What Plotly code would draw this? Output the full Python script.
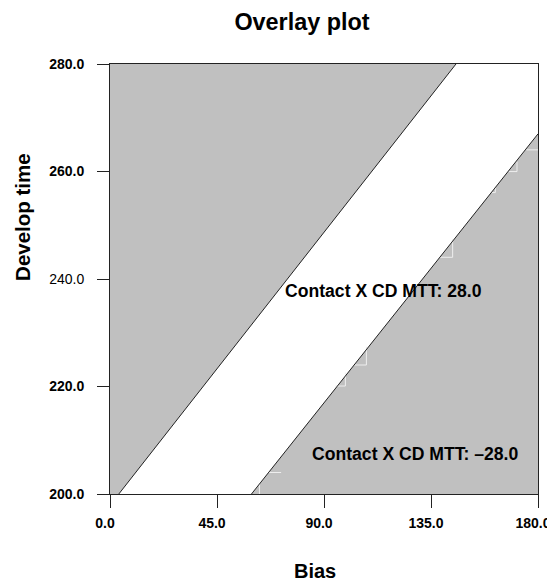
import plotly.graph_objects as go

# axis limits
x_range = [0.0, 180.0]
y_range = [200.0, 280.0]

# contour boundary lines (Bias, Develop time)
upper_x = [3.7, 145.5]
upper_y = [200.0, 280.0]
lower_x = [59.5, 180.0]
lower_y = [200.0, 267.0]

# faint grid-cell edges visible inside the lower region (None separates pieces)
edge_x = [62.85, 62.85, None, 66.75, 71.97, None, 94.79, 98.99, 98.99, None,
          102.07, 107.83, 107.83, None, 138.22, 144.10, 144.10, None,
          159.95, 162.05, 162.05, None, 167.64, 171.17, 171.17, None, 175.08, 180.0]
edge_y = [200.0, 202.05, None, 204.0, 204.0, None, 220.09, 220.09, 222.62, None,
          224.0, 224.0, 227.39, None, 244.04, 244.04, 247.40, None,
          256.08, 256.08, 257.20, None, 259.99, 259.99, 261.85, None, 264.03, 264.03]

x_ticks = [0, 45, 90, 135, 180]
x_ticklabels = ["0.0", "45.0", "90.0", "135.0", "180.0"]
y_ticks = [200, 220, 240, 260, 280]
y_ticklabels = ["200.0", "220.0", "240.0", "260.0", "280.0"]
y_bold = [True, True, False, True, True]

labels = ["Contact X CD MTT: 28.0", "Contact X CD MTT: \u201328.0"]
label_x = [115.0, 128.4]
label_y = [237.8, 207.4]

GREY = "#c0c0c0"
FONT = "Liberation Sans, Arial, sans-serif"

fig = go.Figure()

# upper grey region (above upper line)
fig.add_trace(go.Scatter(
    x=[x_range[0]] + upper_x + [x_range[0]],
    y=[upper_y[0]] + upper_y + [y_range[1]],
    fill="toself", fillcolor=GREY, mode="none", hoverinfo="skip", showlegend=False))
# lower grey region (below lower line)
fig.add_trace(go.Scatter(
    x=lower_x + [x_range[1], lower_x[0]],
    y=lower_y + [y_range[0], lower_y[0]],
    fill="toself", fillcolor=GREY, mode="none", hoverinfo="skip", showlegend=False))
# faint cell edges
fig.add_trace(go.Scatter(x=edge_x, y=edge_y, mode="lines", connectgaps=False,
                         line=dict(color="#eeeeee", width=1),
                         hoverinfo="skip", showlegend=False))
# boundary lines
for xs, ys in [(upper_x, upper_y), (lower_x, lower_y)]:
    fig.add_trace(go.Scatter(x=xs, y=ys, mode="lines",
                             line=dict(color="#222222", width=1),
                             hoverinfo="skip", showlegend=False))

for t, xx, yy in zip(labels, label_x, label_y):
    fig.add_annotation(x=xx, y=yy, text="<b>" + t + "</b>", showarrow=False,
                       font=dict(family=FONT, size=17.6, color="black"),
                       xanchor="center", yanchor="middle")

fig.add_annotation(xref="paper", yref="paper", x=-0.205, y=0.645,
                   text="<b>Develop time</b>", textangle=-90, showarrow=False,
                   font=dict(family=FONT, size=20.5, color="black"),
                   xanchor="center", yanchor="middle")
fig.add_annotation(xref="paper", yref="paper", x=0.4794, y=-0.18,
                   text="<b>Bias</b>", showarrow=False,
                   font=dict(family=FONT, size=20, color="black"),
                   xanchor="center", yanchor="middle")

fig.update_layout(
    width=547, height=573,
    margin=dict(l=102, r=17, t=56, b=87, autoexpand=False),
    paper_bgcolor="white", plot_bgcolor="white",
    title=dict(text="<b>Overlay plot</b>", x=0.5375, xref="container", xanchor="center",
               y=1 - 14 / 573, yref="container", yanchor="middle",
               font=dict(family=FONT, size=23.4, color="black")),
    showlegend=False,
)
fig.update_xaxes(range=x_range, tickvals=x_ticks,
                 ticktext=["<b>" + s + "</b>" for s in x_ticklabels],
                 showgrid=False, zeroline=False, showline=True, linecolor="#222222",
                 linewidth=1, mirror=True, ticks="outside", ticklen=13, tickcolor="#222222",
                 tickfont=dict(family=FONT, size=14, color="black"),
                 ticklabelstandoff=3, ticklabelshift=-5,
                 ticklabeloverflow="allow", automargin=False)
fig.update_yaxes(range=y_range, tickvals=y_ticks,
                 ticktext=[("<b>" + s + "</b>") if b else s for s, b in zip(y_ticklabels, y_bold)],
                 showgrid=False, zeroline=False, showline=True, linecolor="#222222",
                 linewidth=1, mirror=True, ticks="outside", ticklen=12, tickcolor="#222222",
                 tickfont=dict(family=FONT, size=14, color="black"),
                 ticklabelstandoff=10, automargin=False)

fig.write_html("out.html")
